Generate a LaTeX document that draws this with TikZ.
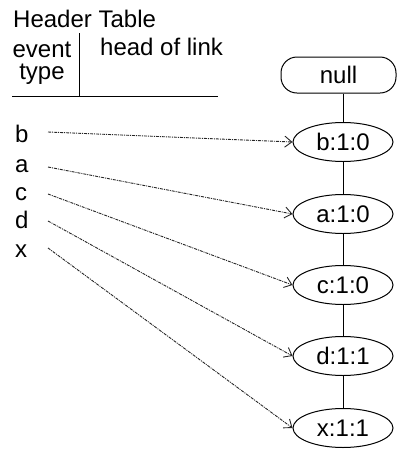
\documentclass[tikz,border=0pt]{standalone}
\usepackage{fontspec}
\setmainfont{Liberation Sans}
\usetikzlibrary{shapes.geometric,arrows.meta}
\begin{document}
\begin{tikzpicture}[x=1pt,y=-1pt,
  txt/.style={anchor=base west,inner sep=0pt,font=\fontsize{24}{26}\selectfont},
  evnode/.style={draw,ellipse,line width=1pt,minimum width=100pt,minimum height=39pt,inner sep=0pt,font=\fontsize{24}{26}\selectfont},
  nullbox/.style={draw,rectangle,rounded corners=16pt,line width=1pt,minimum width=115pt,minimum height=36pt,inner sep=0pt,font=\fontsize{24}{26}\selectfont},
  treeline/.style={line width=0.9pt},
  linkarrow/.style={line width=0.9pt,black!85,dash pattern=on 3pt off 1pt on 1pt off 1pt,-{Straight Barb[length=7pt,width=11pt,line width=0.9pt]}}
]
\useasboundingbox (0,0) rectangle (402,451);
% header table
\node[txt] (title) at (13,27) {Header Table};
\node[inner sep=0pt,align=center,anchor=base,font=\fontsize{24}{22}\selectfont] (event) at (42,79) {event\\type};
\node[txt] (head) at (100,55) {head of link};
\coordinate (vtop) at (79,33);
\coordinate (vbot) at (79,96);
\coordinate (hl) at (12,96);
\coordinate (hr) at (218,96);
\draw[treeline] (vtop) -- (vbot);
\draw[treeline] (hl) -- (hr);
% labels
\node[txt] (lb) at (15,142) {b};
\node[txt] (la) at (15,172) {a};
\node[txt] (lc) at (15,200) {c};
\node[txt] (ld) at (15,228) {d};
\node[txt] (lx) at (15,257) {x};
\coordinate (sb) at (48,132);
\coordinate (sa) at (48,167);
\coordinate (sc) at (48,194);
\coordinate (sd) at (48,221);
\coordinate (sx) at (48,248);
% tree
\node[nullbox] (null) at (338.5,75) {null};
\node[evnode] (b) at (343,142) {b:1:0};
\node[evnode] (a) at (343,214) {a:1:0};
\node[evnode] (c) at (343,285) {c:1:0};
\node[evnode] (d) at (343,356) {d:1:1};
\node[evnode] (x) at (343,428) {x:1:1};
\draw[treeline] (null.south -| b.north) -- (b.north);
\draw[treeline] (b) -- (a);
\draw[treeline] (a) -- (c);
\draw[treeline] (c) -- (d);
\draw[treeline] (d) -- (x);
% links
\draw[linkarrow] (sb) -- (b.west);
\draw[linkarrow] (sa) -- (a.west);
\draw[linkarrow] (sc) -- (c.west);
\draw[linkarrow] (sd) -- (d.west);
\draw[linkarrow] (sx) -- (x.west);
\end{tikzpicture}
\end{document}
